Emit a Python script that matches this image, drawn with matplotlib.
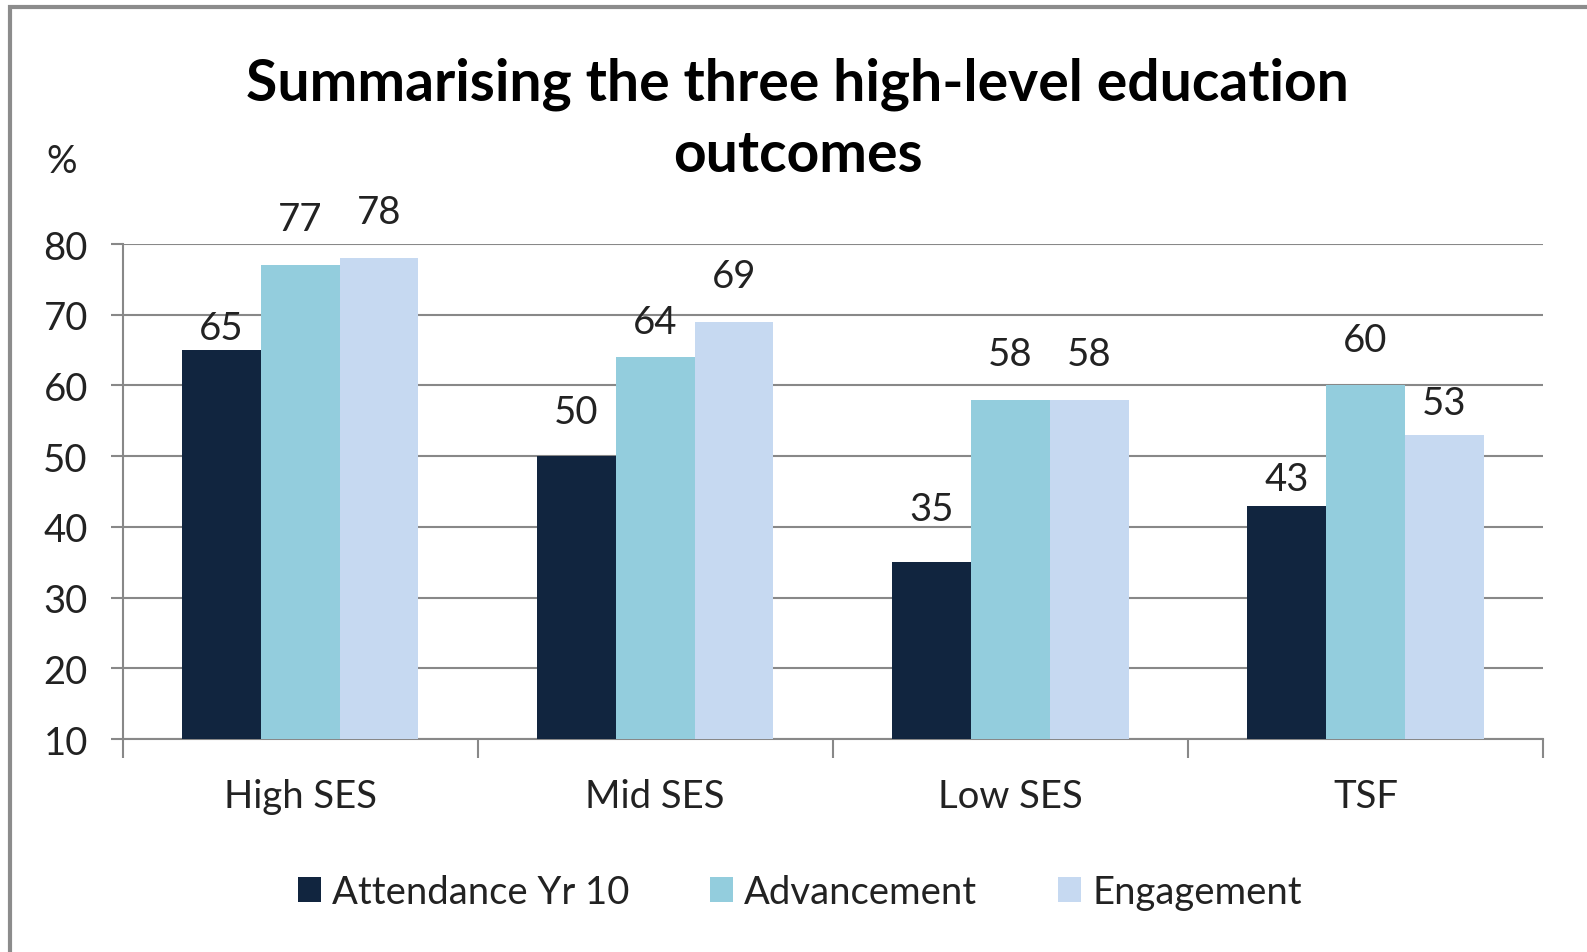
import matplotlib.pyplot as plt
import numpy as np
from matplotlib.patches import Rectangle

plt.rcParams['font.family'] = ['Lato', 'DejaVu Sans']

categories = ['High SES', 'Mid SES', 'Low SES', 'TSF']
series_names = ['Attendance Yr 10', 'Advancement', 'Engagement']
attendance = [65, 50, 35, 43]
advancement = [77, 64, 58, 60]
engagement = [78, 69, 58, 53]
colors = ['#11253f', '#93cddd', '#c6d9f1']
# label offsets above bar tops (points), labels were nudged by hand in the original
label_offsets = [[16, 32, 38, 19], [33, 25, 33, 33], [33, 33, 33, 23]]

fig = plt.figure(figsize=(15.87, 9.53), dpi=100)
ax = fig.add_axes([0.0772, 0.2235, 0.8951, 0.5194])

# outer chart border
fig.patches.append(Rectangle((10 / 1587, -0.1), 1.2, 1 - 8 / 953 + 0.1,
                             transform=fig.transFigure, fill=False,
                             edgecolor='#8c8c8c', linewidth=3))

x = np.arange(len(categories))
w = 0.222
for i, (vals, name) in enumerate(zip([attendance, advancement, engagement], series_names)):
    ax.bar(x + (i - 1) * w, np.array(vals) - 10, w, bottom=10,
           color=colors[i], label=name, zorder=3)
    for xi, v, off in zip(x + (i - 1) * w, vals, label_offsets[i]):
        ax.annotate(str(v), (xi, v), xytext=(0, off), textcoords='offset points',
                    ha='center', va='center', fontsize=27.5, color='#222222')

ax.set_xlim(-0.5, 3.5)
ax.set_ylim(10, 80)
ax.set_yticks(range(10, 81, 10))
ax.tick_params(axis='y', labelsize=27.5, length=9, width=1.5, color='#888888',
               pad=16, labelcolor='#222222')
ax.set_xticks(np.arange(-0.5, 4, 1), minor=False)
ax.set_xticklabels([])
ax.tick_params(axis='x', length=14, width=1.5, color='#888888', direction='out')
ax.set_xticks(x, minor=True)
ax.set_xticklabels(categories, minor=True)
ax.tick_params(axis='x', which='minor', length=0, labelsize=27.5, pad=28,
               labelcolor='#222222')
ax.grid(axis='y', color='#888888', linewidth=1.5, zorder=0)
for s in ['top', 'right']:
    ax.spines[s].set_visible(False)
for s in ['left', 'bottom']:
    ax.spines[s].set_color('#888888')
    ax.spines[s].set_linewidth(1.5)

fig.text(0.5026, 0.874, 'Summarising the three high-level education\noutcomes',
         ha='center', va='center', fontsize=41, fontweight='bold',
         linespacing=1.42, color='black')
fig.text(0.039, 0.830, '%', ha='center', va='center', fontsize=27.5, color='#222222')

fig.legend(loc='center', bbox_to_anchor=(0.504, 0.063), ncol=3, frameon=False,
           fontsize=27.5, handlelength=0.6, handleheight=0.6, handletextpad=0.3,
           columnspacing=2.1, labelcolor='#222222')

fig.savefig('out.png', dpi=100)
